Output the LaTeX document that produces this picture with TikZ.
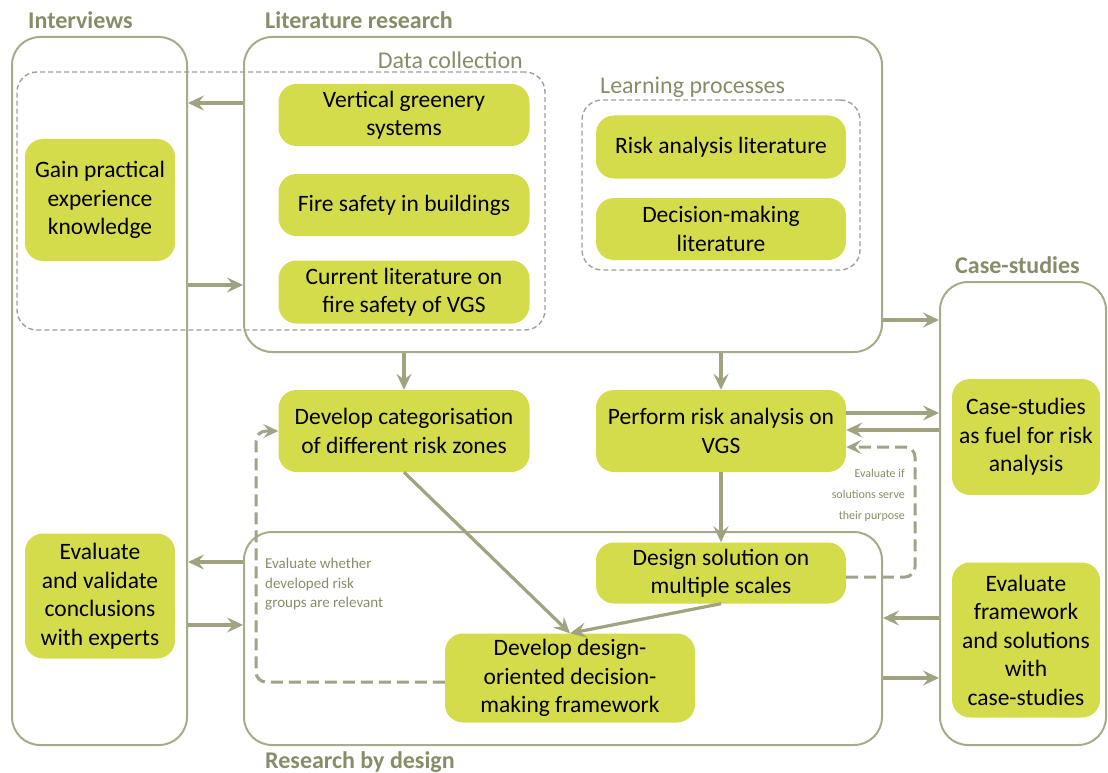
\documentclass[tikz,border=0pt]{standalone}
\usepackage{fontspec}
\setmainfont{Carlito}
\usetikzlibrary{arrows.meta,calc}
\definecolor{vgreen}{RGB}{212,220,76}
\definecolor{framec}{RGB}{168,170,138}
\definecolor{arrc}{RGB}{160,162,128}
\definecolor{titlec}{RGB}{136,140,104}
\definecolor{dashc}{RGB}{160,160,150}
\definecolor{fbc}{RGB}{162,162,136}
\tikzset{
  gbox/.style={fill=vgreen, rounded corners=18pt, align=center, text=black, inner sep=0pt,
    font=\fontsize{23.5}{28.5}\selectfont},
  frame/.style={draw=framec, line width=2pt, rounded corners=28pt, inner sep=0pt},
  dbox/.style={draw=dashc, line width=1.4pt, dash pattern=on 5pt off 3pt, rounded corners=20pt, inner sep=0pt},
  arr/.style={draw=arrc, line width=3.2pt, -{Stealth[length=16pt,width=15pt,inset=6pt]}},
  fb/.style={draw=fbc, line width=3pt, dash pattern=on 12pt off 6pt, rounded corners=10pt,
    -{Stealth[length=15pt,width=14pt,inset=6pt]}},
  ttl/.style={text=titlec, font=\fontsize{24}{28}\selectfont\bfseries, inner sep=0pt},
  sub/.style={text=titlec, font=\fontsize{24}{28}\selectfont, inner sep=0pt},
  small/.style={text=titlec, align=left, inner sep=0pt, font=\fontsize{15}{19.5}\selectfont},
  smallr/.style={text=titlec, align=right, inner sep=0pt, font=\fontsize{12}{21}\selectfont},
}
\begin{document}
\begin{tikzpicture}[x=1pt,y=-1pt]
\useasboundingbox (0,0) rectangle (1108,773);
% frames
\node[frame, minimum width=175pt, minimum height=708pt] (intv) at (99.5,391) {};
\node[frame, minimum width=638pt, minimum height=315pt] (lit) at (563,194.5) {};
\node[frame, minimum width=638pt, minimum height=213pt] (rbd) at (563,638.5) {};
\node[frame, minimum width=166pt, minimum height=463pt] (case) at (1023,513.5) {};
\node[dbox, minimum width=528pt, minimum height=258pt] (datac) at (281,201) {};
\node[dbox, minimum width=278pt, minimum height=170pt] (learn) at (721,185) {};
% titles
\node[ttl, anchor=west] (tint) at (28,20) {Interviews};
\node[ttl, anchor=west] (tlit) at (265,20) {Literature research};
\node[ttl, anchor=west] (tcase) at (955,265) {Case-studies};
\node[ttl, anchor=west] (trbd) at (265,762) {Research by design};
\node[sub, anchor=east] (tdc) at (523,60) {Data collection};
\node[sub, anchor=west] (tlp) at (600,87) {Learning processes};
% green boxes
\node[gbox, minimum width=251pt, minimum height=62pt] (vgs) at (404,115) {Vertical greenery\\systems};
\node[gbox, minimum width=251pt, minimum height=62pt] (fsb) at (404,205) {Fire safety in buildings};
\node[gbox, minimum width=251pt, minimum height=63pt] (cur) at (404,292) {Current literature on\\fire safety of VGS};
\node[gbox, minimum width=250pt, minimum height=63pt] (ral) at (721,147) {Risk analysis literature};
\node[gbox, minimum width=250pt, minimum height=62pt] (dml) at (721,229) {Decision-making\\literature};
\node[gbox, minimum width=150pt, minimum height=122pt] (gain) at (100,200) {Gain practical\\experience\\knowledge};
\node[gbox, minimum width=251pt, minimum height=82pt] (dcat) at (404,431) {Develop categorisation\\of different risk zones};
\node[gbox, minimum width=250pt, minimum height=82pt] (pra) at (721,431) {Perform risk analysis on\\VGS};
\node[gbox, minimum width=148pt, minimum height=116pt] (cfuel) at (1026,437) {Case-studies\\as fuel for risk\\analysis};
\node[gbox, minimum width=150pt, minimum height=125pt] (evv) at (100,596) {Evaluate\\and validate\\conclusions\\with experts};
\node[gbox, minimum width=250pt, minimum height=61pt] (dsol) at (721,573) {Design solution on\\multiple scales};
\node[gbox, minimum width=250pt, minimum height=89pt] (ddf) at (570,678) {Develop design-\\oriented decision-\\making framework};
\node[gbox, minimum width=148pt, minimum height=155pt] (evf) at (1026,640) {Evaluate\\framework\\and solutions\\with\\case-studies};
% labels
\node[small, anchor=north west] (lwh) at (265,558) {Evaluate whether\\developed risk\\groups are relevant};
\node[smallr, anchor=north east] (lif) at (905,469) {Evaluate if\\solutions serve\\their purpose};
% arrows
\draw[arr] (lit.west |- 0,103) -- (intv.east |- 0,103);
\draw[arr] (intv.east |- 0,285) -- (lit.west |- 0,285);
\draw[arr] (lit.east |- 0,320) -- (case.west |- 0,320);
\draw[arr] (lit.south -| dcat) -- (dcat.north);
\draw[arr] (lit.south -| pra) -- (pra.north);
\draw[arr] (pra.east |- 0,413) -- (case.west |- 0,413);
\draw[arr] (case.west |- 0,430) -- (pra.east |- 0,430);
\draw[arr] (pra.south) -- (dsol.north);
\draw[arr] (dcat.south) -- (ddf.north);
\draw[arr] (dsol.south) -- (ddf.north);
\draw[arr] (rbd.west |- 0,562) -- (intv.east |- 0,562);
\draw[arr] (intv.east |- 0,625) -- (rbd.west |- 0,625);
\draw[arr] (case.west |- 0,618) -- (rbd.east |- 0,618);
\draw[arr] (rbd.east |- 0,678) -- (case.west |- 0,678);
% feedback
\draw[fb] (ddf.west |- 0,682) -- (256,682) -- (256,431) -- (dcat.west);
\draw[fb] (dsol.east |- 0,577) -- (915,577) -- (915,447) -- (pra.east |- 0,447);
\end{tikzpicture}
\end{document}
